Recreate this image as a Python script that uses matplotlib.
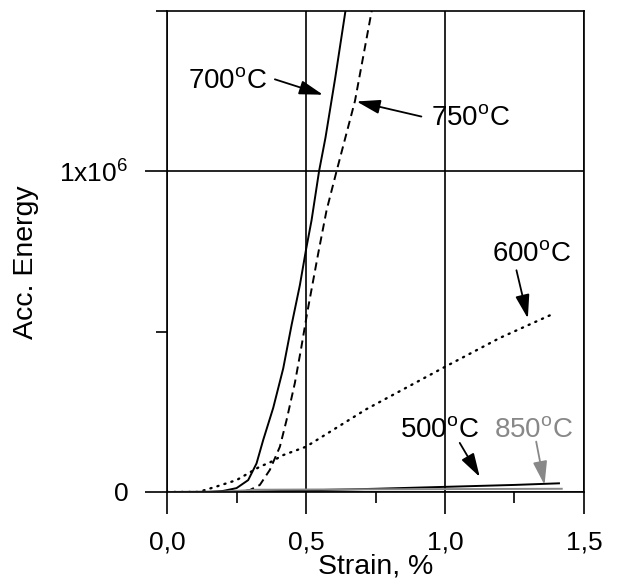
import matplotlib
matplotlib.use("Agg")
import matplotlib.pyplot as plt
import numpy as np

plt.rcParams['font.family'] = ['Liberation Sans', 'DejaVu Sans']
plt.rcParams['mathtext.fontset'] = 'custom'
plt.rcParams['mathtext.rm'] = 'Liberation Sans'
plt.rcParams['mathtext.it'] = 'Liberation Sans:italic'

# strain (%) vs accumulated energy (units of 1e6)
x700 = [0.0, 0.15, 0.20, 0.25, 0.292, 0.322, 0.346, 0.382, 0.418, 0.448, 0.478, 0.50, 0.52, 0.547, 0.57, 0.605, 0.65]
y700 = [0.0, 0.0, 0.003, 0.012, 0.037, 0.089, 0.162, 0.262, 0.385, 0.520, 0.645, 0.755, 0.847, 1.0, 1.104, 1.29, 1.545]

x750 = [0.0, 0.25, 0.298, 0.334, 0.370, 0.406, 0.430, 0.460, 0.483, 0.504, 0.544, 0.574, 0.610, 0.676, 0.745]
y750 = [0.0, 0.0, 0.006, 0.022, 0.069, 0.141, 0.224, 0.340, 0.450, 0.557, 0.744, 0.878, 1.0, 1.218, 1.54]

x600 = [0.0, 0.113, 0.178, 0.25, 0.334, 0.37, 0.418, 0.5, 0.717, 1.0, 1.197, 1.394]
y600 = [0.0, 0.0, 0.017, 0.037, 0.079, 0.092, 0.115, 0.141, 0.258, 0.390, 0.480, 0.557]

x500 = [0.0, 0.3, 0.5, 0.75, 1.0, 1.25, 1.41]
y500 = [0.0, 0.001, 0.005, 0.010, 0.016, 0.022, 0.027]

x850 = [0.0, 0.2, 0.32, 0.6, 1.0, 1.42]
y850 = [0.0, 0.001, 0.007, 0.008, 0.009, 0.010]

xticks = [0.0, 0.5, 1.0, 1.5]
xticklabels = ['0,0', '0,5', '1,0', '1,5']
yticks = [0.0, 1.0e6]
yticklabels = ['0', '1x10$^{\\mathrm{6}}$']

# label text, text position, arrow tail, arrow head (data units, y in 1e6), colour
notes = [
    ('700', (0.219, 1.282), (0.388, 1.286), (0.561, 1.238), 'black'),
    ('750', (1.092, 1.164), (0.915, 1.170), (0.682, 1.217), 'black'),
    ('600', (1.310, 0.743), (1.257, 0.691), (1.298, 0.541), 'black'),
    ('500', (0.981, 0.193), (1.053, 0.153), (1.125, 0.047), 'black'),
    ('850', (1.319, 0.193), (1.328, 0.157), (1.358, 0.022), '#888888'),
]

fig = plt.figure(figsize=(6.17, 5.85), dpi=100)
ax = fig.add_axes([0.2707, 0.159, 0.6758, 0.8228])

lw = 1.4
ax.plot(x700, np.array(y700)*1e6, color='black', lw=lw)
ax.plot(x750, np.array(y750)*1e6, color='black', lw=lw, dashes=(4.2, 2.6))
ax.plot(x600, np.array(y600)*1e6, color='black', lw=1.7, dashes=(0.5, 2.6),
        dash_capstyle='round')
ax.plot(x500, np.array(y500)*1e6, color='black', lw=lw)
ax.plot(x850, np.array(y850)*1e6, color='#888888', lw=lw)

for lab, tpos, tail, head, col in notes:
    ax.text(tpos[0], tpos[1]*1e6, lab + '$^{\\mathrm{o}}$C', fontsize=20, color=col,
            ha='center', va='center')
    ax.annotate('', xy=(head[0], head[1]*1e6), xytext=(tail[0], tail[1]*1e6),
                arrowprops=dict(arrowstyle='-|>,head_length=0.9,head_width=0.27',
                                color=col, lw=1.3, shrinkA=0, shrinkB=0,
                                mutation_scale=16))

ax.set_xlim(0, 1.5)
ax.set_ylim(0, 1.5e6)
ax.set_xticks(xticks)
ax.set_xticklabels(xticklabels)
ax.set_xticks([0.25, 0.75, 1.25], minor=True)
ax.set_yticks(yticks)
ax.set_yticklabels(yticklabels)
ax.set_yticks([0.5e6, 1.5e6], minor=True)
ax.tick_params(which='major', direction='out', length=16, width=1.2, labelsize=19, pad=12)
ax.tick_params(which='minor', direction='out', length=8, width=1.2)
ax.grid(True, which='major', color='black', lw=1.2)
for s in ax.spines.values():
    s.set_linewidth(1.2)

ax.set_xlabel('Strain, %', fontsize=20.5, labelpad=-1)
fig.text(26/617, 1-262.5/585, 'Acc. Energy', rotation=90, fontsize=20.5, ha='center', va='center')

fig.savefig('out.png', dpi=100)
